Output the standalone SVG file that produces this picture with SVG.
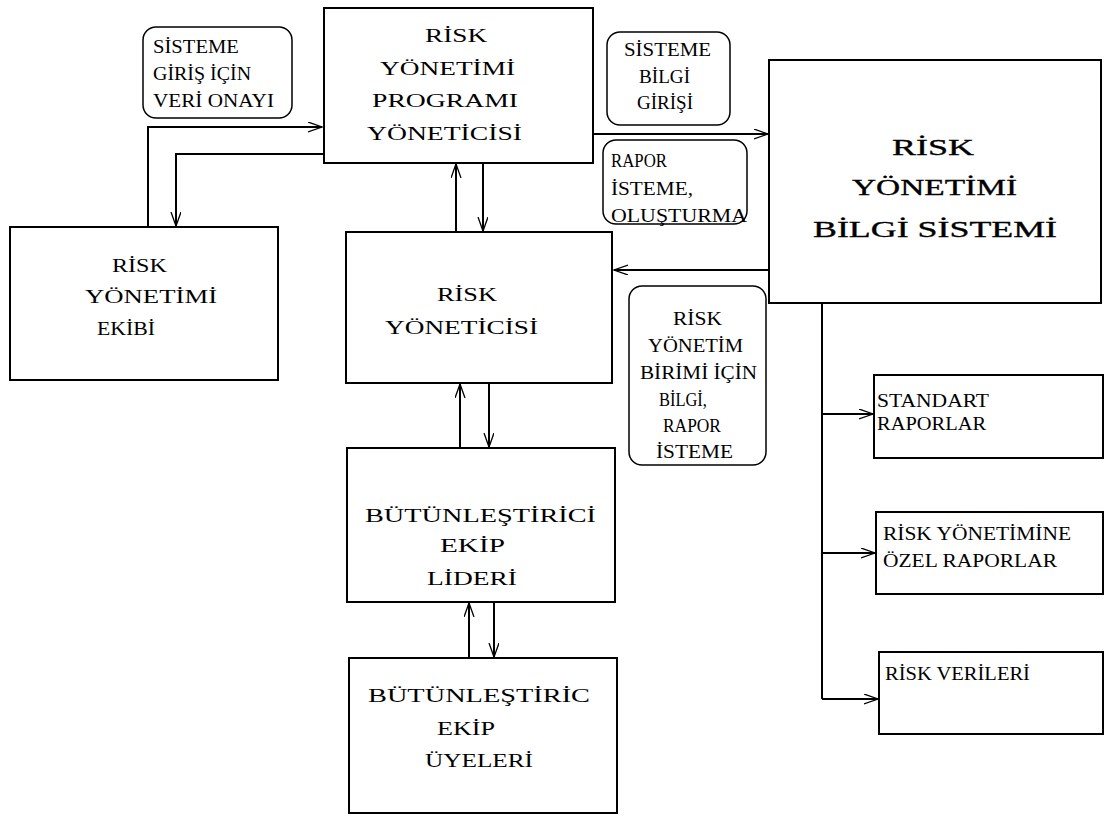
<svg xmlns="http://www.w3.org/2000/svg" width="1106" height="816" viewBox="0 0 1106 816">
  <style>
    .box { fill: #fff; stroke: #000; stroke-width: 2; }
    .lbl { fill: #fff; stroke: #000; stroke-width: 1.5; }
    .t { font-family: "Liberation Serif", "Times New Roman", serif; font-size: 18px; fill: #000; }
    .t19 { font-size: 19px; }
    .big { font-size: 24px; stroke: #000; stroke-width: 0.35; }
    .c { fill: none; stroke: #000; stroke-width: 2; }
  </style>
  <defs>
    <marker id="arr" markerUnits="userSpaceOnUse" markerWidth="16" markerHeight="12" refX="14" refY="5" orient="auto">
      <path d="M0,0 L14,5 L0,10" fill="none" stroke="#000" stroke-width="1.3"/>
    </marker>
  </defs>
  <rect width="1106" height="816" fill="#fff"/>

  <!-- connectors -->
  <g id="connectors" class="c">
    <path d="M148,227 V127 H322" marker-end="url(#arr)"/>
    <path d="M324,154 H176 V226" marker-end="url(#arr)"/>
    <path d="M456,232 V164" marker-end="url(#arr)"/>
    <path d="M483,163 V231" marker-end="url(#arr)"/>
    <path d="M593,134 H768" marker-end="url(#arr)"/>
    <path d="M769,270 H614" marker-end="url(#arr)"/>
    <path d="M460,448 V384" marker-end="url(#arr)"/>
    <path d="M489,383 V447" marker-end="url(#arr)"/>
    <path d="M469,658 V603" marker-end="url(#arr)"/>
    <path d="M494,602 V657" marker-end="url(#arr)"/>
    <path d="M822,303 V699"/>
    <path d="M822,414 H873" marker-end="url(#arr)"/>
    <path d="M822,553 H875" marker-end="url(#arr)"/>
    <path d="M822,699 H878" marker-end="url(#arr)"/>
  </g>

  <!-- nodes: text lines are drawn horizontally widened (matrix sx,0,0,1,x,0) -->
  <g id="program-manager">
    <rect class="box" x="324" y="8" width="269" height="155"/>
    <text class="t t19" transform="matrix(1.44,0,0,1,425,0)" y="42" textLength="43.1" lengthAdjust="spacingAndGlyphs">RİSK</text>
    <text class="t t19" transform="matrix(1.44,0,0,1,380,0)" y="75" textLength="93.8" lengthAdjust="spacingAndGlyphs">YÖNETİMİ</text>
    <text class="t t19" transform="matrix(1.44,0,0,1,372,0)" y="107" textLength="101.4" lengthAdjust="spacingAndGlyphs">PROGRAMI</text>
    <text class="t t19" transform="matrix(1.44,0,0,1,367,0)" y="140" textLength="107.6" lengthAdjust="spacingAndGlyphs">YÖNETİCİSİ</text>
  </g>

  <g id="info-system">
    <rect class="box" x="769" y="60" width="332" height="243"/>
    <text class="t big" transform="matrix(1.45,0,0,1,892,0)" y="155" textLength="56.6" lengthAdjust="spacingAndGlyphs">RİSK</text>
    <text class="t big" transform="matrix(1.45,0,0,1,852,0)" y="195" textLength="113.8" lengthAdjust="spacingAndGlyphs">YÖNETİMİ</text>
    <text class="t big" transform="matrix(1.45,0,0,1,813,0)" y="237" textLength="168.3" lengthAdjust="spacingAndGlyphs">BİLGİ SİSTEMİ</text>
  </g>

  <g id="risk-team">
    <rect class="box" x="10" y="227" width="268" height="153"/>
    <text class="t" transform="matrix(1.35,0,0,1,112,0)" y="272" textLength="40.7" lengthAdjust="spacingAndGlyphs">RİSK</text>
    <text class="t" transform="matrix(1.35,0,0,1,85,0)" y="303" textLength="97.8" lengthAdjust="spacingAndGlyphs">YÖNETİMİ</text>
    <text class="t" transform="matrix(1.35,0,0,1,97,0)" y="335" textLength="43" lengthAdjust="spacingAndGlyphs">EKİBİ</text>
  </g>

  <g id="risk-manager">
    <rect class="box" x="346" y="232" width="266" height="151"/>
    <text class="t" transform="matrix(1.48,0,0,1,437,0)" y="301" textLength="40.5" lengthAdjust="spacingAndGlyphs">RİSK</text>
    <text class="t" transform="matrix(1.48,0,0,1,385,0)" y="334" textLength="103.4" lengthAdjust="spacingAndGlyphs">YÖNETİCİSİ</text>
  </g>

  <g id="team-leader">
    <rect class="box" x="347" y="448" width="268" height="154"/>
    <text class="t" transform="matrix(1.57,0,0,1,365,0)" y="522" textLength="147.1" lengthAdjust="spacingAndGlyphs">BÜTÜNLEŞTİRİCİ</text>
    <text class="t" transform="matrix(1.57,0,0,1,440,0)" y="552" textLength="41.4" lengthAdjust="spacingAndGlyphs">EKİP</text>
    <text class="t" transform="matrix(1.57,0,0,1,427,0)" y="585" textLength="57.3" lengthAdjust="spacingAndGlyphs">LİDERİ</text>
  </g>

  <g id="team-members">
    <rect class="box" x="349" y="658" width="268" height="155"/>
    <text class="t" transform="matrix(1.5,0,0,1,368,0)" y="702" textLength="148" lengthAdjust="spacingAndGlyphs">BÜTÜNLEŞTİRİC</text>
    <text class="t" transform="matrix(1.5,0,0,1,437,0)" y="735" textLength="38.7" lengthAdjust="spacingAndGlyphs">EKİP</text>
    <text class="t" transform="matrix(1.5,0,0,1,425,0)" y="767" textLength="72" lengthAdjust="spacingAndGlyphs">ÜYELERİ</text>
  </g>

  <g id="label-data-approval">
    <rect class="lbl" x="143" y="27" width="149" height="91" rx="13"/>
    <text class="t" transform="matrix(1.14,0,0,1,153,0)" y="53" textLength="75.4" lengthAdjust="spacingAndGlyphs">SİSTEME</text>
    <text class="t" transform="matrix(1.14,0,0,1,153,0)" y="80" textLength="86" lengthAdjust="spacingAndGlyphs">GİRİŞ İÇİN</text>
    <text class="t" transform="matrix(1.14,0,0,1,153,0)" y="107" textLength="106.1" lengthAdjust="spacingAndGlyphs">VERİ ONAYI</text>
  </g>

  <g id="label-data-entry">
    <rect class="lbl" x="607" y="32" width="123" height="93" rx="13"/>
    <text class="t" transform="matrix(1.1,0,0,1,624,0)" y="56" textLength="79.1" lengthAdjust="spacingAndGlyphs">SİSTEME</text>
    <text class="t" transform="matrix(1.1,0,0,1,639,0)" y="83" textLength="46.4" lengthAdjust="spacingAndGlyphs">BİLGİ</text>
    <text class="t" transform="matrix(1.1,0,0,1,637,0)" y="109" textLength="50.9" lengthAdjust="spacingAndGlyphs">GİRİŞİ</text>
  </g>

  <g id="label-report-request">
    <rect class="lbl" x="603" y="140" width="144" height="84" rx="13"/>
    <text class="t" transform="matrix(1.1,0,0,1,611,0)" y="167" textLength="50.9" lengthAdjust="spacingAndGlyphs">RAPOR</text>
    <text class="t" transform="matrix(1.1,0,0,1,611,0)" y="195" textLength="74.5" lengthAdjust="spacingAndGlyphs">İSTEME,</text>
    <text class="t" transform="matrix(1.1,0,0,1,611,0)" y="222" textLength="123.6" lengthAdjust="spacingAndGlyphs">OLUŞTURMA</text>
  </g>

  <g id="label-unit-info">
    <rect class="lbl" x="629" y="286" width="137" height="179" rx="13"/>
    <text class="t" transform="matrix(1.1,0,0,1,673,0)" y="325" textLength="44.5" lengthAdjust="spacingAndGlyphs">RİSK</text>
    <text class="t" transform="matrix(1.1,0,0,1,648,0)" y="352" textLength="86.4" lengthAdjust="spacingAndGlyphs">YÖNETİM</text>
    <text class="t" transform="matrix(1.1,0,0,1,640,0)" y="379" textLength="106.4" lengthAdjust="spacingAndGlyphs">BİRİMİ İÇİN</text>
    <text class="t" transform="matrix(1.1,0,0,1,659,0)" y="406" textLength="43.6" lengthAdjust="spacingAndGlyphs">BİLGİ,</text>
    <text class="t" transform="matrix(1.1,0,0,1,663,0)" y="432" textLength="52.7" lengthAdjust="spacingAndGlyphs">RAPOR</text>
    <text class="t" transform="matrix(1.1,0,0,1,656,0)" y="458" textLength="70" lengthAdjust="spacingAndGlyphs">İSTEME</text>
  </g>

  <g id="standard-reports">
    <rect class="box" x="874" y="375" width="229" height="83"/>
    <text class="t" transform="matrix(1.17,0,0,1,877,0)" y="407" textLength="95.7" lengthAdjust="spacingAndGlyphs">STANDART</text>
    <text class="t" transform="matrix(1.17,0,0,1,877,0)" y="430" textLength="93.2" lengthAdjust="spacingAndGlyphs">RAPORLAR</text>
  </g>

  <g id="special-reports">
    <rect class="box" x="876" y="512" width="227" height="82"/>
    <text class="t" transform="matrix(1.17,0,0,1,883,0)" y="540" textLength="160.7" lengthAdjust="spacingAndGlyphs">RİSK YÖNETİMİNE</text>
    <text class="t" transform="matrix(1.17,0,0,1,883,0)" y="567" textLength="148.7" lengthAdjust="spacingAndGlyphs">ÖZEL RAPORLAR</text>
  </g>

  <g id="risk-data">
    <rect class="box" x="879" y="652" width="224" height="82"/>
    <text class="t" transform="matrix(1.17,0,0,1,885,0)" y="680" textLength="123.9" lengthAdjust="spacingAndGlyphs">RİSK VERİLERİ</text>
  </g>
</svg>
